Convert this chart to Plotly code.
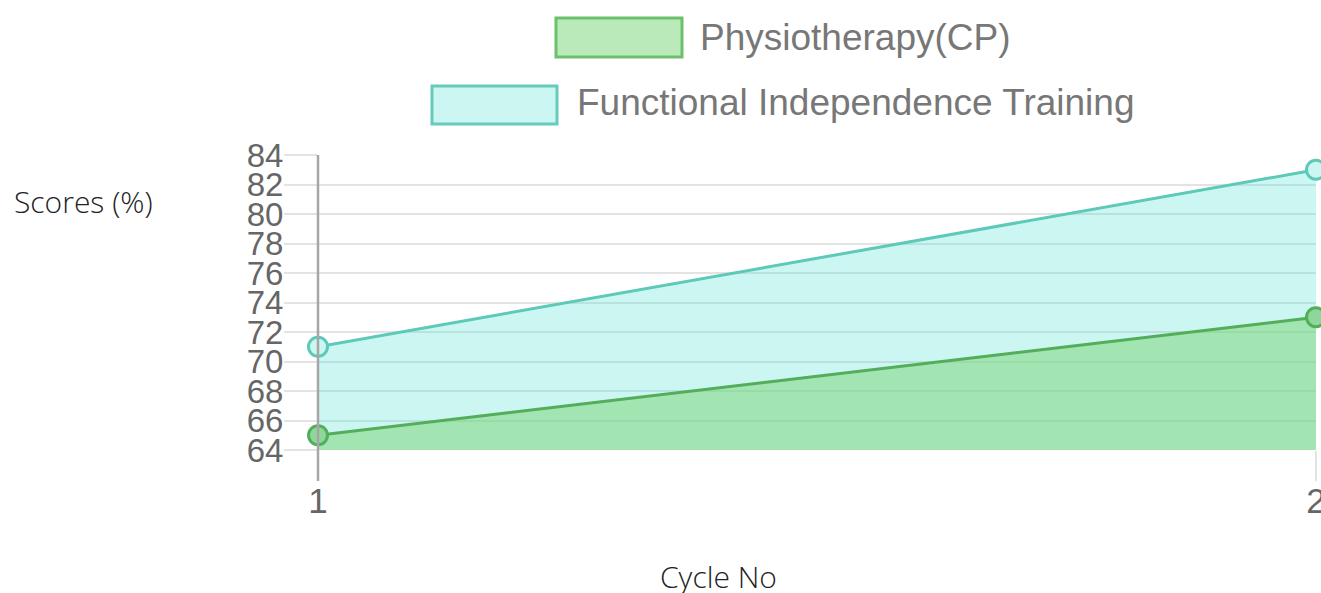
import plotly.graph_objects as go

cycles = [1, 2]
physio = [65, 73]
fit = [71, 83]
series_names = ["Physiotherapy(CP)", "Functional Independence Training"]
y_ticks = list(range(64, 85, 2))

GREEN_LINE = "#52ae58"
GREEN_FILL = "rgba(120,210,115,0.5)"
CYAN_LINE = "#5cc9b9"
CYAN_FILL = "rgba(85,225,208,0.3)"

fig = go.Figure()
fig.add_trace(go.Scatter(
    x=cycles, y=fit, name=series_names[1], mode="lines+markers",
    fill="tozeroy", fillcolor=CYAN_FILL,
    line=dict(color=CYAN_LINE, width=3),
    marker=dict(size=19, color="#ccf6f1", line=dict(color=CYAN_LINE, width=3)),
    cliponaxis=False,
))
fig.add_trace(go.Scatter(
    x=cycles, y=physio, name=series_names[0], mode="lines+markers",
    fill="tozeroy", fillcolor=GREEN_FILL,
    line=dict(color=GREEN_LINE, width=3),
    marker=dict(size=19, color="#8fd69a", line=dict(color=GREEN_LINE, width=3)),
    cliponaxis=False,
))

W, H = 1321, 593
PL, PR, PT, PB = 318, 1316, 155, 450  # plot box in screen pixels
L, T, R, B = PL, PT, W - PR, H - PB
pw, ph = W - L - R, H - T - B

def px(x):
    return (x - PL) / pw

def py(y):
    return (PB - y) / ph

shapes = []
annotations = []
legend_items = [
    (series_names[0], (556, 682, 18, 57), 700, 37, "#baeab9", "#6cbf6c"),
    (series_names[1], (432, 557, 86, 124), 577, 103, "#ccf6f1", "#66cbbd"),
]
for name, (x0, x1, y0, y1), tx, ty, fc, lc in legend_items:
    shapes.append(dict(type="rect", xref="paper", yref="paper",
                       x0=px(x0), x1=px(x1), y0=py(y1), y1=py(y0),
                       fillcolor=fc, line=dict(color=lc, width=3), layer="above"))
    annotations.append(dict(text=name, xref="paper", yref="paper",
                            x=px(tx - 2), y=py(ty), xanchor="left", yanchor="middle",
                            showarrow=False,
                            font=dict(family="Liberation Sans, Arial", size=37, color="#777777")))

# left axis line extending below plot
shapes.append(dict(type="line", xref="paper", yref="paper",
                   x0=0, x1=0, y0=py(481), y1=1,
                   line=dict(color="#a6a6a6", width=2.5), layer="above"))

title_font = dict(family="Open Sans, Noto Sans, sans-serif", size=30, color="#222222", weight=300)
annotations.append(dict(text="Scores (%)", xref="paper", yref="paper",
                        x=px(12), y=py(201), xanchor="left", yanchor="middle",
                        showarrow=False, font=title_font))
annotations.append(dict(text="Cycle No", xref="paper", yref="paper",
                        x=px(718), y=py(576), xanchor="center", yanchor="middle",
                        showarrow=False, font=title_font))

fig.update_layout(
    width=W, height=H, autosize=False,
    margin=dict(l=L, r=R, t=T, b=B, pad=0, autoexpand=False),
    paper_bgcolor="white", plot_bgcolor="white",
    showlegend=False,
    shapes=shapes, annotations=annotations,
    xaxis=dict(range=[1, 2], tickvals=cycles, ticktext=[str(c) for c in cycles],
               showgrid=True, gridcolor="#e3e3e3", gridwidth=2,
               ticks="outside", ticklen=30, tickwidth=2, tickcolor="#e3e3e3",
               zeroline=False, showline=False, ticklabeloverflow="allow",
               ticklabelstandoff=-10, automargin=False,
               tickfont=dict(family="Liberation Sans, Arial", size=35, color="#666666")),
    yaxis=dict(range=[64, 84], tickvals=y_ticks,
               showgrid=True, gridcolor="#e3e3e3", gridwidth=2,
               ticks="outside", ticklen=33, tickwidth=2, tickcolor="#e3e3e3",
               zeroline=False, showline=False, ticklabelstandoff=-6, automargin=False,
               tickfont=dict(family="Liberation Sans, Arial", size=33, color="#666666")),
)

fig.write_html("out.html",
               config={"responsive": False, "displayModeBar": False},
               post_script="document.body.style.margin='0';document.body.style.overflow='hidden';")
